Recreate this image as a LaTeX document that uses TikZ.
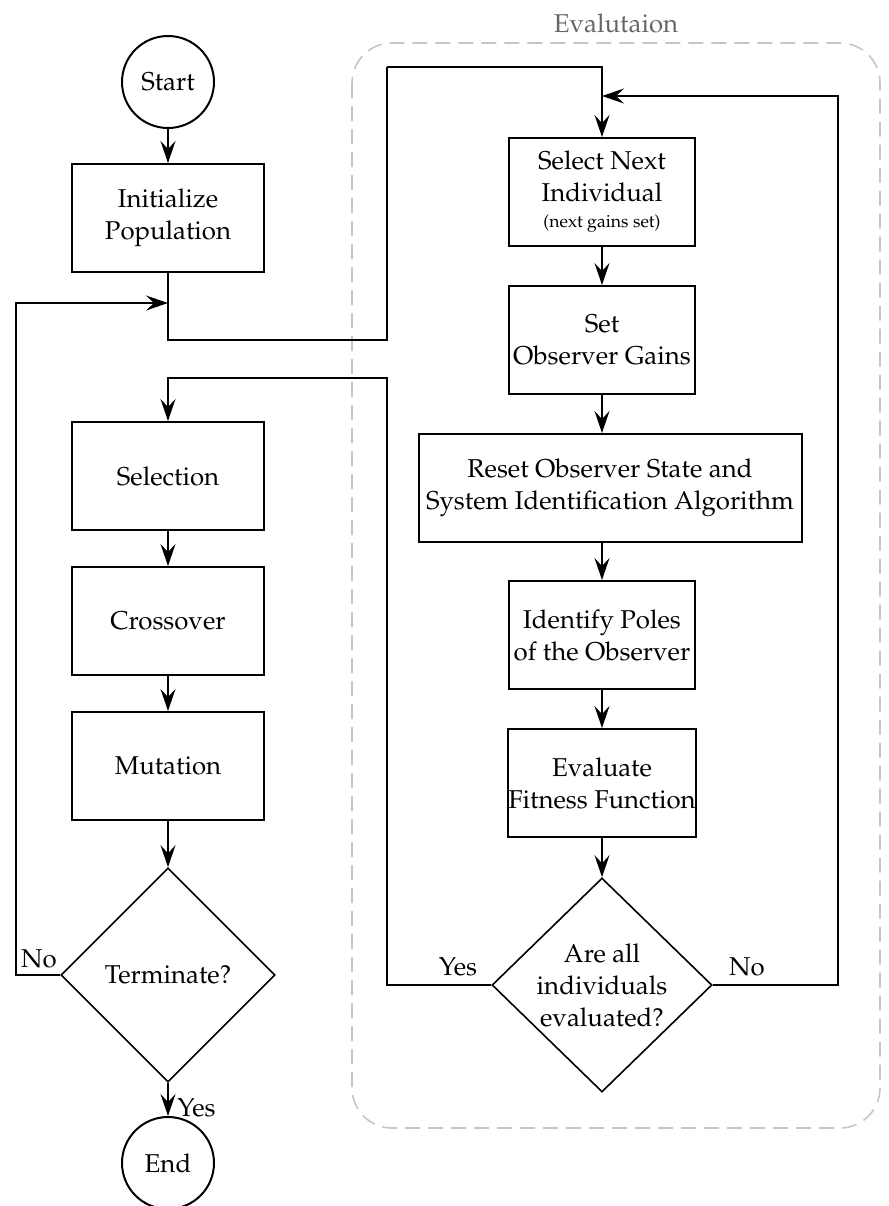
\documentclass[tikz,border=0pt]{standalone}
\usepackage[T1]{fontenc}
\usepackage{mathpazo}
\usetikzlibrary{shapes.geometric,arrows.meta}
\tikzset{
  blk/.style={draw, line width=1pt, minimum width=93pt, minimum height=54pt, align=center, inner sep=0pt},
  term/.style={draw, circle, line width=1pt, minimum size=46pt, inner sep=0pt},
  dec/.style={draw, diamond, line width=0.8pt, minimum width=107pt, minimum height=107pt, inner sep=0pt, align=center},
  arr/.style={-{Stealth[length=11pt,width=7.5pt,inset=4pt]}, line width=0.75pt},
  lnk/.style={line width=0.75pt},
}
\begin{document}
\begin{tikzpicture}[x=0.5pt, y=-0.5pt, font=\fontsize{12.9}{16}\selectfont]
\useasboundingbox (0,0) rectangle (889,1206);
% evaluation frame
\draw[gray!45, line width=0.8pt, dash pattern=on 7.5pt off 4pt, rounded corners=20pt] (352,43) rectangle (880,1128);
\node[text=black!60] (evl) at (616,23) {Evalutaion};
% left column
\node[term] (start) at (168,82) {Start};
\node[blk, minimum width=96pt] (init) at (168,218) {Initialize\\Population};
\node[blk, minimum width=96pt] (sel) at (168,476) {Selection};
\node[blk, minimum width=96pt] (cross) at (168,621) {Crossover};
\node[blk, minimum width=96pt] (mut) at (168,766) {Mutation};
\node[dec] (term) at (168,975) {Terminate?};
\node[term] (end) at (168,1163) {End};
% right column
\node[blk] (nxt) at (602,192) {Select Next\\Individual\\[-3pt]{\fontsize{8.8}{11}\selectfont (next gains set)}};
\node[blk] (gain) at (602,340) {Set\\Observer Gains};
\node[blk, minimum width=191.5pt] (reset) at (610,488) {Reset Observer State and\\System Identification Algorithm};
\node[blk] (ident) at (602,635) {Identify Poles\\of the Observer};
\node[blk] (eval) at (602,783) {Evaluate\\Fitness Function};
\node[dec, minimum width=110pt] (alle) at (602,985) {Are all\\individuals\\evaluated?};
% turning points
\coordinate (c1) at (387,340);
\coordinate (c2) at (387,67);
\coordinate (c3) at (838,96);
\coordinate (c4) at (387,378);
\coordinate (c5) at (16,303);
\coordinate (j1) at (168,303);

\draw[arr] (start) -- (init);
\draw[lnk] (init.south) |- (c1) -- (c2);
\draw[arr] (c2) -| (nxt.north);
\draw[arr] (sel) -- (cross);
\draw[arr] (cross) -- (mut);
\draw[arr] (mut) -- (term);
\draw[arr] (term) -- node[right, xshift=1pt, yshift=-4pt] (y1) {Yes} (end);
\draw[arr] (term.west) -| (c5) -- (j1);
\node (n1) at (39,959) {No};
\draw[arr] (nxt) -- (gain);
\draw[arr] (gain.south) -- (gain.south |- reset.north);
\draw[arr] (reset.south -| ident.north) -- (ident.north);
\draw[arr] (ident) -- (eval);
\draw[arr] (eval) -- (alle);
\draw[arr] (alle.east) -| (c3) -- (nxt.north |- c3);
\draw[arr] (alle.west) -| (c4) -| (sel.north);
\node (y2) at (458,967) {Yes};
\node (n2) at (747,967) {No};
\end{tikzpicture}
\end{document}
